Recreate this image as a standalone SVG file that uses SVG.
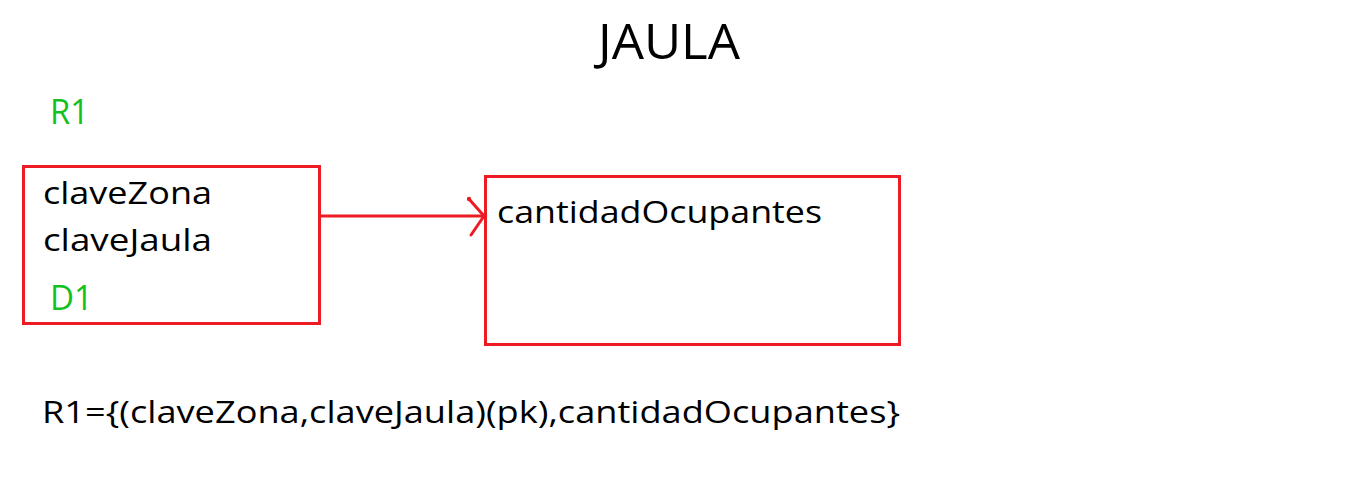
<svg xmlns="http://www.w3.org/2000/svg" width="1346" height="498" viewBox="0 0 1346 498">
<style>
.box{fill:none;stroke:#ed1c24;stroke-width:3}
.conn{fill:none;stroke:#ed1c24;stroke-width:3;stroke-linecap:round;stroke-linejoin:round}
.t{font-family:"Open Sans","Noto Sans",sans-serif;fill:#000}
.g{font-family:"Open Sans","Noto Sans",sans-serif;fill:#12c11e}
</style>
<rect width="1346" height="498" fill="#fff"/>
<text class="t" x="598" y="59" font-size="49" textLength="142" lengthAdjust="spacingAndGlyphs">JAULA</text>
<text class="g" x="50" y="124" font-size="35" textLength="39" lengthAdjust="spacingAndGlyphs">R1</text>
<g id="node-d1">
<rect class="box" x="23.5" y="166.5" width="296" height="157"/>
<text class="t" x="43" y="204" font-size="31" textLength="169" lengthAdjust="spacingAndGlyphs">claveZona</text>
<text class="t" x="43" y="251" font-size="31" textLength="169" lengthAdjust="spacingAndGlyphs">claveJaula</text>
<text class="g" x="50" y="310" font-size="35" textLength="43" lengthAdjust="spacingAndGlyphs">D1</text>
</g>
<g id="node-dep">
<rect class="box" x="485.5" y="176.5" width="414" height="168"/>
<text class="t" x="497" y="223" font-size="31" textLength="325" lengthAdjust="spacingAndGlyphs">cantidadOcupantes</text>
</g>
<g id="connectors">
<line class="conn" x1="320" y1="216" x2="484" y2="216"/>
<path class="conn" d="M469 199 L484 216 L471 235"/>
<circle cx="469" cy="199" r="2.2" fill="#ed1c24"/>
</g>
<text class="t" x="42" y="423" font-size="31" textLength="858" lengthAdjust="spacingAndGlyphs">R1={(claveZona,claveJaula)(pk),cantidadOcupantes}</text>
</svg>
